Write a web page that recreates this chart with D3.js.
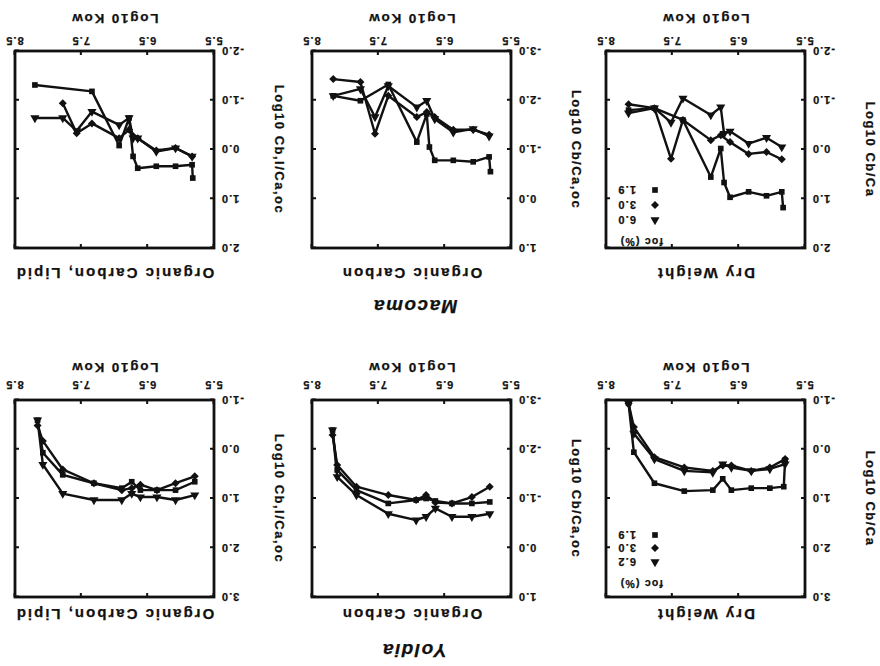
<!DOCTYPE html>
<html>
<head>
<meta charset="utf-8">
<script src="https://cdn.jsdelivr.net/npm/d3@7"></script>
<style>
  body { margin: 0; background: #fff; }
  text { font-family: "Liberation Sans", Arial, sans-serif; font-weight: bold; fill: #111; stroke: #111; stroke-width: 0.25; }
</style>
</head>
<body>
<svg id="fig" width="880" height="666"></svg>
<script>
// the scanned figure sits upside down, so everything is drawn upright and then turned 180deg

const kowTicks = [5.5, 6.5, 7.5, 8.5]
const panelTitles = ['Dry Weight', 'Organic Carbon', 'Organic Carbon, Lipid']
const yTitles = ['Log10 Cb/Ca', 'Log10 Cb/Ca,oc', 'Log10 Cb,l/Ca,oc']
const focYoldia = ['6.2', '3.0', '1.9']   // triangle, diamond, square
const focMacoma = ['6.0', '3.0', '1.9']

// Yoldia
const yoldiaDwKow = [8.16, 8.08, 7.77, 7.32, 6.89, 6.74, 6.61, 6.31, 6.03, 5.82, 5.80]
const yoldiaDwSq  = [-0.93, 0.06, 0.69, 0.85, 0.83, 0.60, 0.83, 0.79, 0.79, 0.76, 0.22]
const yoldiaDwDi  = [-0.93, -0.45, 0.16, 0.37, 0.44, 0.33, 0.33, 0.44, 0.37, null, 0.20]
const yoldiaDwTr  = [-0.93, -0.32, 0.20, 0.44, 0.47, 0.30, 0.37, 0.44, 0.40, null, 0.30]

const yoldiaOcKow = [8.19, 8.12, 7.83, 7.35, 6.93, 6.78, 6.64, 6.39, 6.09, 5.82]
const yoldiaOcSq  = [-2.39, -1.58, -1.17, -0.90, -0.97, -1.00, -0.95, -0.90, -0.90, -0.93]
const yoldiaOcDi  = [-2.29, -1.68, -1.24, -1.07, -0.97, -1.07, -0.92, -0.90, -1.03, -1.24]
const yoldiaOcTr  = [-2.39, -1.44, -1.07, -0.69, -0.56, -0.63, -0.80, -0.63, -0.63, -0.69]

const yoldiaLipKow = [8.16, 8.08, 7.78, 7.31, 6.89, 6.74, 6.61, 6.36, 6.08, 5.79]
const yoldiaLipSq  = [-0.59, 0.07, 0.52, 0.69, 0.79, 0.66, 0.83, 0.83, 0.83, 0.66]
const yoldiaLipDi  = [-0.48, -0.17, 0.41, 0.69, 0.83, 0.79, 0.72, 0.83, 0.69, 0.55]
const yoldiaLipTr  = [-0.59, 0.31, 0.90, 1.03, 1.03, 0.90, 0.97, 0.97, 1.03, 0.93]

// Macoma
const macomaDwKow = [8.16, 7.77, 7.52, 7.34, 6.92, 6.77, 6.72, 6.63, 6.35, 6.08, 5.85, 5.83]
const macomaDwSq  = [-0.80, -0.84, null, -0.60, 0.56, -0.02, 0.67, 0.97, 0.86, 0.94, 0.86, 1.18]
const macomaDwDi  = [-0.92, -0.84, 0.19, -0.60, -0.19, -0.29, null, -0.15, 0.09, 0.05, 0.20, null]
const macomaDwTr  = [-0.74, -0.84, -0.55, -1.04, -0.70, -0.86, -0.32, -0.37, -0.12, -0.24, -0.05, null]

const macomaOcKow = [8.18, 7.77, 7.55, 7.35, 6.92, 6.77, 6.73, 6.65, 6.37, 6.07, 5.83, 5.81]
const macomaOcSq  = [-2.09, -1.99, null, -2.32, -1.15, -1.72, -1.05, -0.78, -0.78, -0.75, -0.85, -0.55]
const macomaOcDi  = [-2.43, -2.37, -1.32, -2.09, -1.66, -1.76, null, -1.66, -1.40, -1.40, -1.30, null]
const macomaOcTr  = [-2.09, -2.23, -1.66, -2.29, -1.86, -1.99, null, -1.62, -1.35, -1.42, -1.27, null]

const macomaLipKow = [8.20, 7.78, 7.57, 7.34, 6.93, 6.78, 6.72, 6.65, 6.37, 6.08, 5.83, 5.82]
const macomaLipSq  = [-1.31, null, null, -1.18, -0.08, -0.64, 0.14, 0.38, 0.34, 0.34, 0.31, 0.58]
const macomaLipDi  = [null, -0.94, -0.33, -0.53, -0.23, -0.40, null, -0.23, 0.02, -0.03, 0.14, null]
const macomaLipTr  = [-0.64, -0.64, -0.38, -0.77, -0.50, -0.64, -0.23, -0.23, 0.04, -0.03, 0.14, null]

const panels = [
  {sp: 'Yoldia', col: 0, yDom: [-1, 3], kow: yoldiaDwKow, sq: yoldiaDwSq, di: yoldiaDwDi, tr: yoldiaDwTr, foc: focYoldia},
  {sp: 'Yoldia', col: 1, yDom: [-3, 1], kow: yoldiaOcKow, sq: yoldiaOcSq, di: yoldiaOcDi, tr: yoldiaOcTr},
  {sp: 'Yoldia', col: 2, yDom: [-1, 3], kow: yoldiaLipKow, sq: yoldiaLipSq, di: yoldiaLipDi, tr: yoldiaLipTr},
  {sp: 'Macoma', col: 0, yDom: [-2, 2], kow: macomaDwKow, sq: macomaDwSq, di: macomaDwDi, tr: macomaDwTr, foc: focMacoma},
  {sp: 'Macoma', col: 1, yDom: [-3, 1], kow: macomaOcKow, sq: macomaOcSq, di: macomaOcDi, tr: macomaOcTr},
  {sp: 'Macoma', col: 2, yDom: [-2, 2], kow: macomaLipKow, sq: macomaLipSq, di: macomaLipDi, tr: macomaLipTr}
]

const colLeft = [75, 369, 666]
const boxW = 199, boxH = 197
const rows = {
  Yoldia: {top: 69, title: 17, tickPad: 11, legTop: [13, 35, 49, 62]},
  Macoma: {top: 418, title: 25, tickPad: 6, legTop: [6, 28, 43, 58]}
}

const svg = d3.select('#fig')
const fig = svg.append('g').attr('transform', 'rotate(180 440 333)')

const markSq = d3.symbol().type(d3.symbolSquare).size(32)
const markTr = d3.symbol().type(d3.symbolTriangle).size(36)
const fmt = d => d.toFixed(1)

function drawMark(g, kind, cx, cy) {
  let p = g.append('path').attr('fill', '#111')
  if (kind == 'tr') p.attr('d', markTr).attr('transform', `translate(${cx},${cy})`)
  else if (kind == 'di') p.attr('d', markSq).attr('transform', `translate(${cx},${cy}) rotate(45)`)
  else p.attr('d', markSq).attr('transform', `translate(${cx},${cy})`)
}

panels.forEach(p => {
  const r = rows[p.sp]
  const g = fig.append('g').attr('transform', `translate(${colLeft[p.col]},${r.top})`)

  const x = d3.scaleLinear([5.5, 8.5], [0, boxW])
  const y = d3.scaleLinear(p.yDom, [boxH, 0])
  const yTicks = d3.range(p.yDom[0], p.yDom[1] + 0.5, 1)

  // axes with labels
  g.append('g').attr('transform', `translate(0,${boxH})`)
    .call(d3.axisBottom(x).tickValues(kowTicks).tickFormat(fmt).tickSize(-4).tickPadding(r.tickPad))
  g.append('g')
    .call(d3.axisLeft(y).tickValues(yTicks).tickFormat(fmt).tickSize(-4).tickPadding(7))
  g.append('g').call(d3.axisTop(x).tickValues(kowTicks).tickFormat('').tickSize(-4))
  g.append('g').attr('transform', `translate(${boxW},0)`)
    .call(d3.axisRight(y).tickValues(yTicks).tickFormat('').tickSize(-4))

  g.selectAll('.domain').remove()
  g.selectAll('.tick line').attr('stroke', '#111').attr('stroke-width', 2)
  g.selectAll('.tick text').attr('font-size', 11).attr('letter-spacing', 1)
    .attr('font-family', '"Liberation Sans", Arial, sans-serif').attr('font-weight', 'bold').attr('fill', '#111')

  g.append('rect').attr('width', boxW).attr('height', boxH)
    .attr('fill', 'none').attr('stroke', '#111').attr('stroke-width', 2.8)

  // titles
  g.append('text').attr('x', boxW / 2).attr('y', -r.title)
    .attr('text-anchor', 'middle').attr('dominant-baseline', 'central')
    .attr('font-size', 15).attr('letter-spacing', 2)
    .text(panelTitles[p.col])
  g.append('text').attr('x', boxW / 2).attr('y', boxH + 33)
    .attr('text-anchor', 'middle').attr('dominant-baseline', 'central')
    .attr('font-size', 13.5).attr('letter-spacing', 1.8)
    .text('Log10 Kow')
  g.append('text').attr('transform', `translate(-65,${boxH / 2}) rotate(-90)`)
    .attr('text-anchor', 'middle').attr('dominant-baseline', 'central')
    .attr('font-size', 13).attr('letter-spacing', 1.5)
    .text(yTitles[p.col])

  // series
  const line = d3.line().x(d => x(d.k)).y(d => y(d.v))
  ;['sq', 'di', 'tr'].forEach(kind => {
    const pts = p.kow.map((k, i) => ({k: k, v: p[kind][i]})).filter(d => d.v != null)
    g.append('path').datum(pts).attr('d', line)
      .attr('fill', 'none').attr('stroke', '#111').attr('stroke-width', 2.4)
      .attr('stroke-linejoin', 'round')
    pts.forEach(d => drawMark(g, kind, x(d.k), y(d.v)))
  })

  // legend in the dry weight panels
  if (p.foc) {
    g.append('text').attr('x', 142).attr('y', r.legTop[0])
      .attr('dominant-baseline', 'central').attr('font-size', 10.5).attr('letter-spacing', 1.2)
      .text('foc (%)')
    ;['tr', 'di', 'sq'].forEach((kind, i) => {
      drawMark(g, kind, 150, r.legTop[i + 1])
      g.append('text').attr('x', 169).attr('y', r.legTop[i + 1])
        .attr('dominant-baseline', 'central').attr('font-size', 11).attr('letter-spacing', 1.2)
        .text(p.foc[i])
    })
  }
})

// species headings
const heads = [['Yoldia', 466, 16], ['Macoma', 465, 360]]
fig.selectAll('.head').data(heads).enter().append('text')
  .attr('class', 'head')
  .attr('x', d => d[1]).attr('y', d => d[2])
  .attr('text-anchor', 'middle').attr('dominant-baseline', 'central')
  .attr('font-size', 19).attr('font-style', 'italic').attr('letter-spacing', 1.5)
  .text(d => d[0])
</script>
</body>
</html>
